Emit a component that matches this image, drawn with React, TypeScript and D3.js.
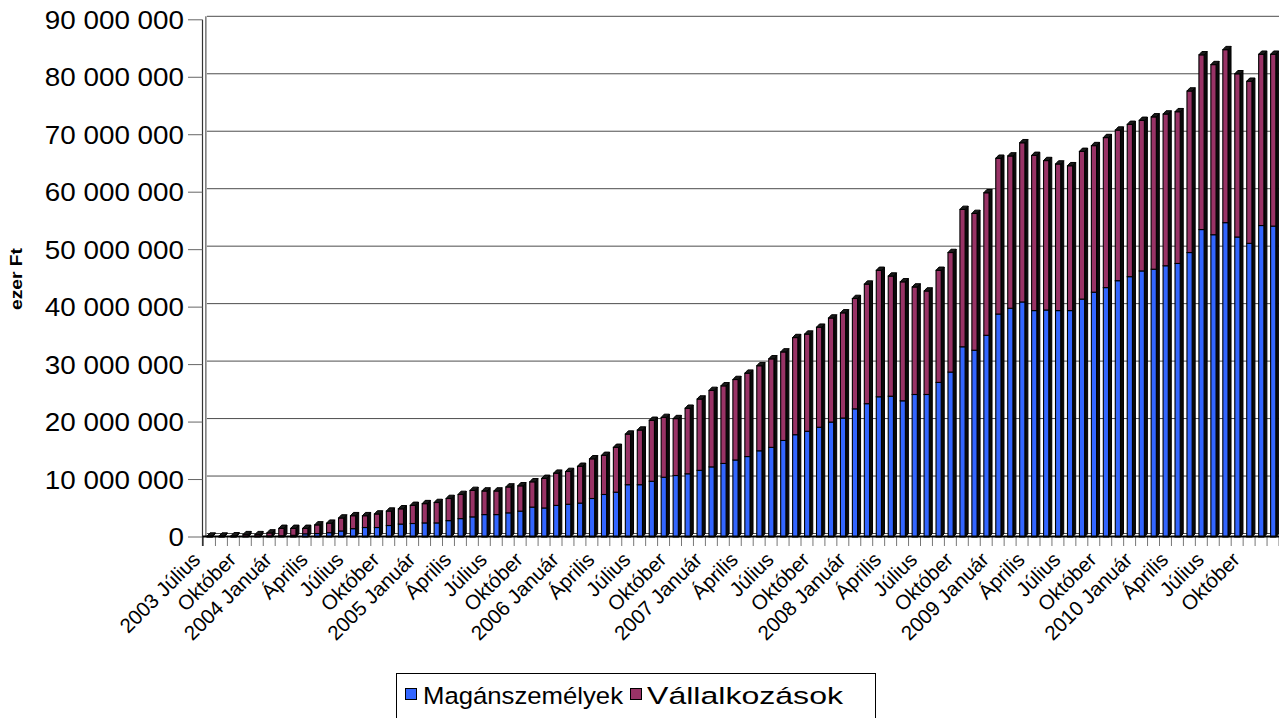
import React from "react";
import * as d3 from "d3";

// ---- data (values in million "ezer Ft") ----
const MONTHS = ["Január","Február","Március","Április","Május","Június","Július","Augusztus","Szeptember","Október","November","December"];
const START_YEAR = 2003;
const START_MONTH = 6; // Július (0-based)
const N_CATEGORIES = 90;

const categories: string[] = Array.from({ length: N_CATEGORIES }, (_, i) => {
  const m = (START_MONTH + i) % 12;
  const yr = START_YEAR + Math.floor((START_MONTH + i) / 12);
  return i === 0 || m === 0 ? `${yr} ${MONTHS[m]}` : MONTHS[m];
});

const seriesNames = ["Magánszemélyek", "Vállalkozások"];
const seriesColors = ["#3366FF", "#993366"];

const maganszemelyek = [
  0.05, 0.05, 0.05, 0.1, 0.1, 0.15, 0.2, 0.3, 0.55, 0.6,
  0.75, 1.05, 1.45, 1.65, 1.65, 2.0, 2.25, 2.35, 2.45, 2.45,
  2.85, 3.2, 3.5, 3.9, 3.9, 4.2, 4.5, 5.2, 5.05, 5.5,
  5.7, 5.9, 6.7, 7.4, 7.8, 9.1, 9.1, 9.7, 10.4, 10.7,
  11.0, 11.6, 12.2, 12.8, 13.4, 14.0, 15.0, 15.6, 16.8, 17.8,
  18.4, 19.1, 20.0, 20.7, 22.3, 23.2, 24.4, 24.5, 23.7, 24.8,
  24.8, 26.9, 28.7, 33.1, 32.5, 35.1, 38.8, 39.8, 40.9, 39.4,
  39.5, 39.4, 39.4, 41.4, 42.6, 43.4, 44.6, 45.3, 46.3, 46.6,
  47.2, 47.6, 49.5, 53.5, 52.6, 54.7, 52.2, 51.1, 54.2, 54.1,
];

const vallalkozasok = [
  0.1, 0.1, 0.15, 0.3, 0.3, 0.55, 1.3, 1.2, 0.95, 1.5,
  1.65, 2.25, 2.25, 2.05, 2.35, 2.5, 2.65, 3.15, 3.35, 3.55,
  3.85, 4.2, 4.6, 4.1, 4.1, 4.5, 4.4, 4.4, 5.15, 5.6,
  5.7, 6.4, 6.9, 6.8, 7.8, 8.8, 9.5, 10.6, 10.4, 9.9,
  11.4, 12.4, 13.3, 13.5, 14.0, 14.5, 14.8, 15.4, 15.4, 16.9,
  16.9, 17.4, 18.1, 18.3, 19.2, 20.8, 22.0, 20.9, 20.7, 18.7,
  18.0, 19.5, 20.8, 23.9, 23.8, 24.8, 27.1, 26.5, 27.7, 27.0,
  26.0, 25.5, 25.2, 25.7, 25.5, 26.1, 26.2, 26.5, 26.2, 26.5,
  26.4, 26.4, 28.1, 30.4, 29.6, 30.1, 28.4, 28.2, 29.8, 29.9,
];

const yTicks = [0, 10e6, 20e6, 30e6, 40e6, 50e6, 60e6, 70e6, 80e6, 90e6];
const yAxisTitle = "ezer Ft";

const UNIT = 1e6;

export default function App() {
  const W = 1279, H = 718;
  const idx = d3.range(N_CATEGORIES);
  const x = d3.scaleBand<number>().domain(idx).range([203.5, 1279]).padding(0);
  const y = d3.scaleLinear().domain([0, 90e6]).range([537, 19.8]);
  const DX = 3.4, DY = -3.5; // 3D wall depth
  const BDX = 3, BDY = -3.3; // bar depth
  const bw = x.bandwidth();
  const fw = 5.2;
  const font = "'Liberation Sans', Arial, Helvetica, sans-serif";
  const fmt = (v: number) => d3.format(",")(v).replace(/,/g, " ");

  const bars = idx.map((i) => {
    const cx = (x(i) as number) + bw / 2;
    const fx = cx - 2.4;
    const m = maganszemelyek[i] * UNIT;
    const v = vallalkozasok[i] * UNIT;
    const y0 = y(0), y1 = y(m), y2 = y(m + v);
    return (
      <g key={"b" + i}>
        <polygon
          points={`${fx + fw},${y2} ${fx + fw + BDX},${y2 + BDY} ${fx + fw + BDX},${y0 + BDY} ${fx + fw},${y0}`}
          fill="#0a0a0a" stroke="#000" strokeWidth={1}
        />
        <rect x={fx} y={y1} width={fw} height={Math.max(0, y0 - y1)} fill={seriesColors[0]} stroke="#000" strokeWidth={1.1} />
        <rect x={fx} y={y2} width={fw} height={Math.max(0, y1 - y2)} fill={seriesColors[1]} stroke="#000" strokeWidth={1.1} />
        <polygon
          points={`${fx},${y2} ${fx + BDX},${y2 + BDY} ${fx + fw + BDX},${y2 + BDY} ${fx + fw},${y2}`}
          fill="#1a1a1a" stroke="#000" strokeWidth={1}
        />
      </g>
    );
  });

  return (
    <svg width={W} height={H} style={{ position: "absolute", left: 0, top: 0, background: "#fff" }} fontFamily={font}>
      <rect x={0} y={0} width={W} height={H} fill="#fff" />
      {/* back wall gridlines */}
      {yTicks.map((t) => (
        <line key={"g" + t} x1={203.5 + DX} x2={1279} y1={y(t) + DY} y2={y(t) + DY} stroke="#4d4d4d" strokeWidth={1} />
      ))}
      {/* wall edge */}
      <line x1={203.5 + DX - 1} x2={203.5 + DX - 1} y1={y(90e6) + DY} y2={y(0)} stroke="#333" strokeWidth={1} />
      {/* y axis */}
      <line x1={202.5} x2={202.5} y1={y(90e6)} y2={546} stroke="#333" strokeWidth={1.2} />
      {yTicks.map((t) => (
        <g key={"t" + t}>
          <line x1={188} x2={202.5} y1={y(t)} y2={y(t)} stroke="#666" strokeWidth={1} />
          <g transform={`translate(184,${y(t)}) scale(1.07,1)`}>
            <text x={0} y={0} dy="0.35em" textAnchor="end" fontSize={26} fill="#000">{fmt(t)}</text>
          </g>
        </g>
      ))}
      {/* x ticks */}
      {d3.range(N_CATEGORIES + 1).map((k) => {
        const xx = 203.5 + k * bw;
        return <line key={"xt" + k} x1={xx} x2={xx} y1={537} y2={546} stroke="#777" strokeWidth={1} />;
      })}
      {/* bars */}
      {bars}
      {/* floor */}
      <line x1={202.5} x2={1279} y1={536.5} y2={536.5} stroke="#000" strokeWidth={2} />
      {/* x labels */}
      {idx.map((i) =>
        i % 3 === 0 ? (
          <text
            key={"xl" + i}
            transform={`translate(${(x(i) as number) + bw / 2 - 8},561) rotate(-45)`}
            textAnchor="end"
            fontSize={20.5}
            fill="#000"
          >
            {categories[i]}
          </text>
        ) : null
      )}
      {/* y axis title */}
      <text transform="translate(22,279) rotate(-90)" textAnchor="middle" fontSize={16} fontWeight="bold" textLength={62} lengthAdjust="spacingAndGlyphs">
        {yAxisTitle}
      </text>
      {/* legend */}
      <rect x={396.5} y={673.5} width={479} height={60} fill="#fff" stroke="#000" strokeWidth={1} />
      <rect x={405.5} y={688.5} width={11} height={11} fill={seriesColors[0]} stroke="#000" strokeWidth={1} />
      <text x={423} y={704} fontSize={24.5} textLength={200} lengthAdjust="spacingAndGlyphs">{seriesNames[0]}</text>
      <rect x={630.5} y={688.5} width={11} height={11} fill={seriesColors[1]} stroke="#000" strokeWidth={1} />
      <text x={647} y={704} fontSize={24.5} textLength={196} lengthAdjust="spacingAndGlyphs">{seriesNames[1]}</text>
    </svg>
  );
}
